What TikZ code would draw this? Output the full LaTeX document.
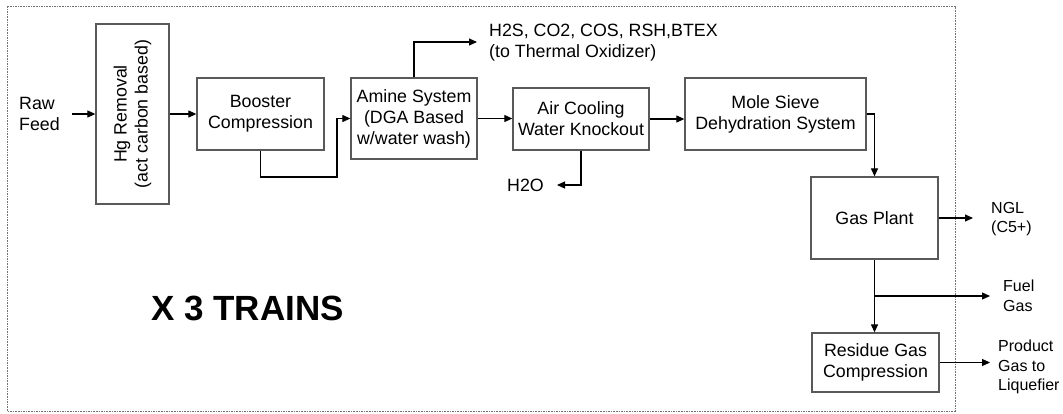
\documentclass[tikz,border=0pt]{standalone}
\usepackage{fontspec}
\setmainfont{Liberation Sans}
\usetikzlibrary{arrows.meta}
\tikzset{
  x=1pt, y=-1pt,
  unit/.style={draw=black!65, line width=1.3pt, fill=white, inner sep=0pt},
  maintxt/.style={font=\fontsize{17.8}{21}\selectfont, align=center, inner sep=0pt},
  smalltxt/.style={font=\fontsize{16}{19.5}\selectfont, align=left, inner sep=0pt, anchor=west},
  arr/.style={line width=1.1pt, -{Triangle[length=8pt,width=7pt]}},
  frame/.style={draw=black!55, line width=0.7pt, dash pattern=on 1.6pt off 1pt}
}
\begin{document}
\begin{tikzpicture}
\useasboundingbox (0,0) rectangle (1063,413);
\draw[frame] (7,6) rectangle (955,411);

% unit boxes
\node[unit, minimum width=73pt, minimum height=180pt] (hg) at (132.5,114) {};
\node[maintxt, rotate=90] (hgtxt) at (hg.center) {Hg Removal\\(act carbon based)};
\node[unit, maintxt, draw=black!65, line width=1.3pt, minimum width=127pt, minimum height=72pt] (booster) at (260.5,114) {Booster\\Compression};
\node[unit, maintxt, draw=black!65, line width=1.3pt, minimum width=126pt, minimum height=81pt] (amine) at (414,118.5) {Amine System\\(DGA Based\\w/water wash)};
\node[unit, maintxt, draw=black!65, line width=1.3pt, minimum width=136pt, minimum height=62pt] (air) at (581,119) {Air Cooling\\Water Knockout};
\node[unit, maintxt, draw=black!65, line width=1.3pt, minimum width=181pt, minimum height=72pt] (mole) at (775.5,114) {Mole Sieve\\Dehydration System};
\node[unit, maintxt, draw=black!65, line width=1.3pt, minimum width=127pt, minimum height=82pt] (gas) at (874.5,218) {Gas Plant};
\node[unit, maintxt, draw=black!65, line width=1.3pt, minimum width=127pt, minimum height=59pt] (residue) at (875.5,362.5) {Residue Gas\\Compression};

% labels
\node[maintxt, align=left, anchor=west] (raw) at (19,114) {Raw\\Feed};
\node[maintxt, align=left, anchor=west] (h2s) at (489,43) {H2S, CO2, COS, RSH,BTEX\\(to Thermal Oxidizer)};
\node[maintxt, anchor=west] (h2o) at (507,185) {H2O};
\node[smalltxt] (ngl) at (991,219) {NGL\\(C5+)};
\node[smalltxt] (fuel) at (1003,296) {Fuel\\Gas};
\node[smalltxt] (prod) at (998,367) {Product\\Gas to\\Liquefier};
\node[font=\fontsize{35}{40}\selectfont\bfseries, inner sep=0pt] (trains) at (247.5,308) {X 3 TRAINS};

% helper coordinates
\coordinate (bend1) at (337,177);
\coordinate (h2send) at (477,42);
\coordinate (split) at (875,296);

% connectors
\draw[arr, shorten <=12pt] (raw.east) -- (raw.east -| hg.west);
\draw[arr] (hg.east) -- (booster.west);
\draw[arr] (booster.south) |- (bend1) |- (amine.west);
\draw[arr] (amine.north) |- (h2send);
\draw[arr] (amine.east) -- (amine.east -| air.west);
\draw[arr, shorten >=13pt] (air.south) |- (h2o.east);
\draw[arr] (air.east) -- (air.east -| mole.west);
\draw[arr] (mole.east) -| (gas.north);
\draw[arr, shorten >=18pt] (gas.east) -- (gas.east -| ngl.west);
\draw[arr] (gas.south) -- (gas.south |- residue.north);
\draw[arr, shorten >=13pt] (split) -- (split -| fuel.west);
\draw[arr, shorten >=8pt] (residue.east) -- (residue.east -| prod.west);
\end{tikzpicture}
\end{document}
